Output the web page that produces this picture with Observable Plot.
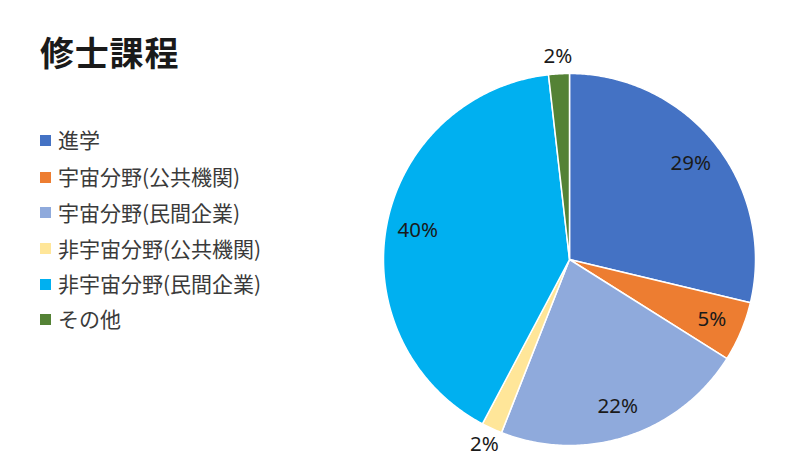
<!DOCTYPE html>
<html>
<head>
<meta charset="utf-8">
<script src="https://cdn.jsdelivr.net/npm/d3@7"></script>
<script src="https://cdn.jsdelivr.net/npm/@observablehq/plot@0.6"></script>
<style>
  html, body { margin: 0; padding: 0; background: #fff; }
  #wrap { position: relative; width: 800px; height: 462px; overflow: hidden; }
  #wrap svg { position: absolute; left: 0; top: 0; }
  #title { position: absolute; left: 40px; top: 30px; font-family: "Noto Sans CJK JP", sans-serif; font-weight: 700; font-size: 34px; color: #1a1a1a; line-height: 44px; letter-spacing: 0.8px; }
  #legend { position: absolute; left: 40px; top: 0; font-family: "Noto Sans CJK JP", sans-serif; font-size: 21px; color: #3a3a3a; }
  .item { position: absolute; left: 0; white-space: nowrap; height: 28px; line-height: 28px; letter-spacing: 0px; }
  .sw { display: inline-block; width: 11px; height: 11px; margin-right: 7px; vertical-align: middle; position: relative; top: -2px; }
</style>
</head>
<body>
<div id="wrap">
  <div id="title">修士課程</div>
  <div id="legend"></div>
</div>
<script>
const categories = ["進学", "宇宙分野(公共機関)", "宇宙分野(民間企業)", "非宇宙分野(公共機関)", "非宇宙分野(民間企業)", "その他"];
const values = [28.7, 5.2, 22.0, 1.8, 40.4, 1.8];
const colors = ["#4472C4", "#ED7D31", "#8FAADC", "#FFE699", "#00B0F0", "#548235"];

const total = d3.sum(values);
const pie = d3.pie().sort(null).value(d => d.value);
const arcs = pie(categories.map((c, i) => ({key: c, value: values[i]})));

// slice outlines from the pie angles (clockwise from top, y up)
const slicePts = [];
for (const a of arcs) {
  const n = Math.max(4, Math.ceil((a.endAngle - a.startAngle) / 0.01));
  slicePts.push({key: a.data.key, x: 0, y: 0});
  for (let k = 0; k <= n; k++) {
    const t = a.startAngle + (a.endAngle - a.startAngle) * k / n;
    slicePts.push({key: a.data.key, x: Math.sin(t), y: Math.cos(t)});
  }
}
const labels = arcs.map(a => {
  const m = (a.startAngle + a.endAngle) / 2;
  const share = a.data.value / total;
  const r = share < 0.03 ? 1.095 : 0.83;
  return {key: a.data.key, x: r * Math.sin(m), y: r * Math.cos(m), text: Math.round(share * 100) + "%"};
});

const chart = Plot.plot({
  width: 800,
  height: 462,
  marginLeft: 383,
  marginRight: 45,
  marginTop: 73,
  marginBottom: 17,
  x: {domain: [-1, 1], axis: null},
  y: {domain: [-1, 1], axis: null},
  color: {domain: categories, range: colors},
  style: {background: "transparent", overflow: "visible"},
  marks: [
    Plot.line(slicePts, {x: "x", y: "y", z: "key", fill: "key", stroke: "white", strokeWidth: 1.5, strokeLinejoin: "round", curve: "linear-closed"}),
    Plot.text(labels, {x: "x", y: "y", text: "text", fill: "#1a1a1a", fontSize: 20.5, fontFamily: "Noto Sans", textAnchor: "middle", lineAnchor: "middle"})
  ]
});
document.getElementById("wrap").appendChild(chart);

const legendTops = [139.3, 176, 211.7, 247.7, 283.3, 318.3];
const legend = document.getElementById("legend");
categories.forEach((c, i) => {
  const div = document.createElement("div");
  div.className = "item";
  div.style.top = (legendTops[i] - 14) + "px";
  div.innerHTML = `<span class="sw" style="background:${colors[i]}"></span>${c}`;
  legend.appendChild(div);
});
</script>
</body>
</html>
